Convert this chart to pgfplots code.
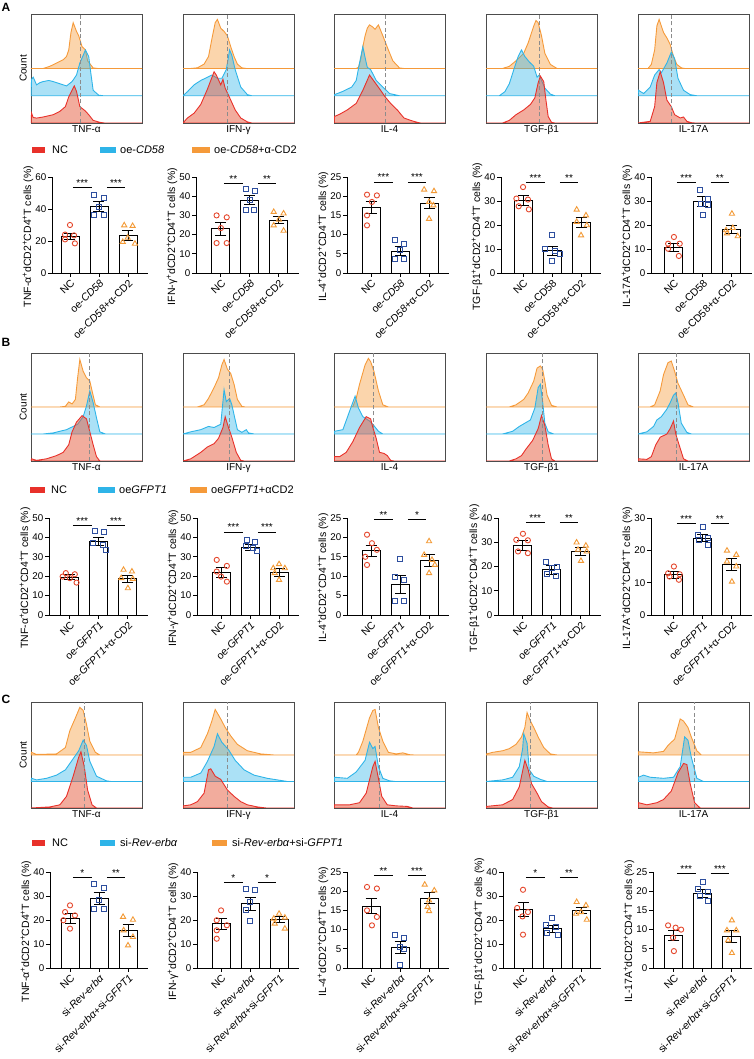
\documentclass[border=0pt]{standalone}
\usepackage{fontspec}
\setmainfont{Liberation Sans}
\usepackage{pgfplots}
\pgfplotsset{compat=1.18}
\definecolor{cR}{HTML}{E8312A}
\definecolor{cRf}{HTML}{E65A3C}
\definecolor{cB}{HTML}{2EB4E8}
\definecolor{cO}{HTML}{F59A3A}
\definecolor{pR}{HTML}{E5472C}
\definecolor{pB}{HTML}{2D4E9E}
\definecolor{pO}{HTML}{F39A36}
\newcommand\fsT{\fontsize{9.8}{11}\selectfont}
\newcommand\fsX{\fontsize{10.5}{12}\selectfont}
\newcommand\fsL{\fontsize{10.5}{12}\selectfont}
\newcommand\fsH{\fontsize{10}{12}\selectfont}
\newcommand\fsG{\fontsize{11}{13}\selectfont}
\newcommand\sps{\raisebox{0.65ex}{\fontsize{8}{9}\selectfont+}}
\newcommand\yl[1]{#1\sps dCD2\sps CD4\sps T cells (\%)}
\tikzset{
 dashl/.style={draw=black!45, dash pattern=on 4pt off 2.5pt, line width=1pt},
 sigl/.style={line width=0.9pt, black},
}
\pgfplotsset{
 histax/.style={scale only axis, width=111pt, anchor=south west, xmin=0, xmax=100, ymin=0, ymax=100,
   xtick=\empty, ytick=\empty, axis line style={draw=black!70, line width=0.8pt},
   xlabel style={at={(axis description cs:0.5,0)}, anchor=north, inner sep=2pt, font=\fsH},
   ylabel style={at={(axis description cs:0,0.5)}, anchor=south, inner sep=4pt, font=\fsH}},
 hO/.style={draw=cO, fill=cO, fill opacity=0.42, line width=0.9pt, y filter/.expression={y+50}},
 hB/.style={draw=cB, fill=cB, fill opacity=0.4, line width=0.9pt, y filter/.expression={y+25}},
 hR/.style={draw=cR, fill=cRf, fill opacity=0.5, line width=0.9pt},
 barax/.style={scale only axis, anchor=south west, x=29pt, xmax=2.68, ymin=0, clip=false,
   axis lines=left, axis line style={-, line width=0.9pt},
   tick align=outside, major tick length=4pt, tick style={line width=0.9pt, black},
   xtick={0,1,2}, xticklabel style={rotate=45, anchor=north east, inner sep=1pt, font=\fsX},
   yticklabel style={font=\fsT, inner sep=1.5pt},
   ylabel style={font=\fsL, inner sep=0.5pt, at={(ticklabel cs:0.38)}},
   /pgf/number format/assume math mode=true},
 bars/.style={ybar, bar width=18pt, fill=white, draw=black, line width=0.9pt,
   error bars/y dir=both, error bars/y explicit,
   error bars/error bar style={line width=0.9pt, black},
   error bars/error mark options={rotate=90, mark size=5.5pt, line width=0.9pt, black}},
 pNC/.style={only marks, mark=o, mark size=2.6pt, pR, mark options={line width=0.9pt}},
 pOE/.style={only marks, mark=square, mark size=2.5pt, pB, mark options={line width=0.9pt}},
 pAL/.style={only marks, mark=triangle, mark size=3pt, pO, mark options={line width=0.9pt}},
 xA/.style={xticklabels={NC,oe-\textit{CD58},oe-\textit{CD58}+α-CD2}},
 xAu/.style={xticklabels={NC,oe-CD58,oe-CD58+α-CD2}},
 xB/.style={xticklabels={NC,oe-\textit{GFPT1},oe-\textit{GFPT1}+α-CD2}},
 xC/.style={xticklabels={NC,si-\textit{Rev-erbα},si-\textit{Rev-erbα}+si-\textit{GFPT1}}},
}
\newcommand\hh[5]{%
\begin{axis}[histax,#1]
\addplot[hO] coordinates {#2} -- cycle;
\addplot[hB] coordinates {#3} -- cycle;
\addplot[hR] coordinates {#4} -- cycle;
\draw[dashl] (axis cs:#5,0) -- (axis cs:#5,100);
\end{axis}}
\newcommand\bc[8]{%
\begin{axis}[barax,#1]
\addplot[bars] coordinates {#2};
\addplot[pNC] coordinates {#3};
\addplot[pOE] coordinates {#4};
\addplot[pAL] coordinates {#5};
\draw[sigl] (axis cs:0.1,#6) -- (axis cs:0.75,#6) node[midway,anchor=base,font=\fsH,inner sep=0pt,yshift=1pt,text=black] {#7};
\draw[sigl] (axis cs:1.27,#6) -- (axis cs:1.9,#6) node[midway,anchor=base,font=\fsH,inner sep=0pt,yshift=1pt,text=black] {#8};
\end{axis}}
\begin{document}
\begin{tikzpicture}[x=1pt,y=1pt]
\useasboundingbox (0pt,0pt) rectangle (754pt,1059pt);
% panel letters
\node[font=\bfseries\fontsize{12}{14}\selectfont] at (6pt,1052pt) {A};
\node[font=\bfseries\fontsize{12}{14}\selectfont] at (6pt,717pt) {B};
\node[font=\bfseries\fontsize{12}{14}\selectfont] at (6pt,360pt) {C};

% ---------------- Panel A histograms
\hh{at={(31pt,936pt)}, height=109pt, xlabel={TNF-α}, ylabel={Count}}
 {(0,0)(11,0)(17,2)(23,5)(29,8)(32,11)(34,17)(36,33)(38,42)(41,34)(43,30)(46,20)(49,17)(51,7)(56,0.5)(60,0)(100,0)}
 {(0,0)(0.5,15)(2,17)(5,10)(8,12)(11,13)(16,14)(20,13)(26,11)(32,9)(37,13)(41,19)(44,30)(47,37)(49,42)(52,36)(54,20)(56,5)(61,0.5)(65,0)(100,0)}
 {(0,0)(0.5,9)(2,5)(5,4.5)(11,5.5)(20,7.6)(26,10.7)(31,15)(34,24)(37,30)(39,34)(41,29)(44,15)(49,11)(52,7.6)(56,2.4)(62,0.6)(66,0)(100,0)}
 {45}
\hh{at={(183pt,936pt)}, height=109pt, xlabel={IFN-γ}}
 {(0,0)(7,0)(13,0.6)(19,4)(23,11)(26,27)(29,42)(31,45)(34,37)(37,34)(40,30)(43,20)(46,11)(49,4)(53,0.6)(57,0)(100,0)}
 {(0,0)(4,3.7)(10,10)(16,14)(22,17)(26,19)(31,16)(35,16)(39,24)(42,42)(44,37)(47,24)(52,8)(58,1)(62,0)(100,0)}
 {(0,0)(4,4.6)(10,9)(16,17)(22,31)(28,47)(30,44)(34,35)(36,40)(38,32)(43,21)(47,12)(52,4.6)(58,1)(62,0)(100,0)}
 {40}
\hh{at={(334pt,936pt)}, height=109pt, xlabel={IL-4}}
 {(0,0)(20,0)(22,1)(24,8)(26,20)(28,30)(30,37)(32,40)(35,38)(37,36)(40,40)(44,30)(49,17)(53,7)(59,0.5)(63,0)(100,0)}
 {(0,0)(0.5,1)(8,4)(16,8)(20,14)(23,30)(26,45)(28,35)(30,26)(33,24)(38,14)(44,8)(50,2)(59,0)(100,0)}
 {(0,0)(0.5,6)(5,8)(12,12)(20,18)(26,30)(32,44)(37,37)(42,30)(46,24)(51,18)(57,12)(63,4.6)(69,2.4)(75,0.6)(78,0)(100,0)}
 {46}
\hh{at={(486pt,936pt)}, height=109pt, xlabel={TGF-β1}}
 {(0,0)(15,0)(21,2)(27,7)(34,14)(38,23.5)(43,39)(45,44)(47,42)(50,30)(53,14)(58,3.7)(64,0)(100,0)}
 {(0,0)(12,0)(17,3.7)(21,11)(26,27)(29,36)(32,42)(35,36)(39,31)(43,27)(46,17)(48,19)(50,14)(53,7)(58,1.5)(62,0)(100,0)}
 {(0,0)(15,0)(21,2.4)(27,7.6)(34,12)(40,17)(44,23)(47,37)(49,43)(52,38)(54,21)(56,6)(59,0.6)(62,0)(100,0)}
 {48.6}
\hh{at={(638pt,936pt)}, height=109pt, xlabel={IL-17A}}
 {(0,0)(9,0)(12,3.7)(15,17)(17,39)(19,45)(23,33)(26,28)(29,22)(32,11)(35,3.7)(39,0.6)(42,0)(100,0)}
 {(0,0)(0.5,5)(5,2)(11,8)(15,19)(19,24)(21,21)(26,30)(30,40)(33,34)(36,16)(41,5)(47,1)(53,0)(100,0)}
 {(0,0)(11,1.5)(15,15)(17,37)(20,47)(23,37)(26,21)(30,15)(33,7.6)(38,4.6)(41,5.5)(44,1.5)(48,0.3)(51,0)(100,0)}
 {30}

% legend A
\fill[cR] (32pt,906pt) rectangle (45pt,912pt); \node[anchor=west,inner sep=0,font=\fsG] at (52pt,909pt) {NC};
\fill[cB] (100pt,906pt) rectangle (116pt,912pt); \node[anchor=west,inner sep=0,font=\fsG] at (120pt,909pt) {oe-\textit{CD58}};
\fill[cO] (192pt,906pt) rectangle (210pt,912pt); \node[anchor=west,inner sep=0,font=\fsG] at (214pt,909pt) {oe-\textit{CD58}+α-CD2};

% ---------------- Panel A bars
\bc{at={(52pt,786pt)}, height=96pt, xmin=-0.62, ymax=60, ytick={0,20,40,60}, ylabel={\yl{TNF-α}}, xA}
 {(0,23) +- (0,2) (1,41.7) +- (0,3) (2,23.3) +- (0,3)}
 {(0,30)(-0.17,24)(0.14,23.5)(-0.17,21)(0.17,18.5)}
 {(0.83,49)(1.17,47)(1,41)(0.83,36.5)(1.17,36.5)}
 {(1.87,29.8)(2.16,29.4)(1.99,22)(1.82,19.4)(2.24,18.3)}
 {53.7}{***}{***}
\bc{at={(196pt,786pt)}, height=96pt, xmin=-0.86, ymax=50, ytick={0,10,...,50}, ylabel={\yl{IFN-γ}}, xA}
 {(0,23) +- (0,3.3) (1,37.9) +- (0,2.3) (2,27.5) +- (0,1.8)}
 {(-0.15,30)(0.2,29)(0,23.4)(-0.15,15.6)(0.2,15.6)}
 {(0.86,44)(1.17,42.5)(1,37.8)(0.86,32.6)(1.14,32.6)}
 {(1.82,31.8)(2.16,31)(2,27.8)(1.82,24.8)(2.16,22)}
 {46.5}{**}{**}
\bc{at={(347pt,786pt)}, height=96pt, xmin=-0.83, ymax=25, ytick={0,5,...,25}, ylabel={\yl{IL-4}}, xA}
 {(0,17) +- (0,1.6) (1,5.7) +- (0,1.1) (2,18.2) +- (0,1.5)}
 {(-0.14,20.4)(0.2,20.2)(0.03,18.5)(-0.14,15)(-0.14,12.4)}
 {(0.83,8.7)(1.15,7.5)(1,6.1)(0.83,3.7)(1.15,3.7)}
 {(1.83,21.7)(2.17,21.3)(2,18.5)(2.15,17.6)(2,14.1)}
 {23.7}{***}{***}
\bc{at={(501pt,786pt)}, height=96pt, xmin=-0.76, ymax=40, ytick={0,10,...,40}, ylabel={\yl{TGF-β1}}, xAu}
 {(0,30.3) +- (0,2) (1,9.2) +- (0,2) (2,21.1) +- (0,2)}
 {(0,35.8)(-0.23,31)(0.17,30.6)(-0.15,27.8)(0.2,26.5)}
 {(1,15.7)(0.77,10.1)(1.1,9.2)(1.26,7.8)(1,4.9)}
 {(1.85,26.4)(2.17,24)(1.85,21.3)(2.2,19.9)(2,15.7)}
 {37.9}{***}{**}
\bc{at={(651pt,786pt)}, height=96pt, xmin=-0.79, ymax=40, ytick={0,10,...,40}, ylabel={\yl{IL-17A}}, xAu}
 {(0,10.6) +- (0,1.7) (1,29.9) +- (0,2) (2,18.2) +- (0,1.8)}
 {(0,15)(-0.2,12.2)(0.2,12.2)(-0.2,10.1)(0.17,7.1)}
 {(0.9,34.7)(1.17,31)(0.93,28.9)(1.17,28.2)(1,24.3)}
 {(2,24.7)(1.8,17.8)(2.03,18.75)(2.2,15.3)(1.83,16.5)}
 {37.9}{***}{**}

% ---------------- Panel B histograms
\hh{at={(31pt,598pt)}, height=108pt, xlabel={TNF-α}, ylabel={Count}}
 {(0,0)(26,0)(31,0.6)(34,4.7)(37,2.8)(40,7)(42,27)(44,44)(47,33)(50,27)(53,24)(55,15)(58,2)(62,0)(100,0)}
 {(0,0)(11,0)(20,1)(32,4)(42,9)(47,16)(50,26)(53,40)(56,29)(59,15)(62,2)(67,0)(100,0)}
 {(0,0)(0.5,2)(5,0.6)(14,2)(23,5)(29,8)(34,15)(37,27)(41,36)(46,42)(50,39)(53,27)(56,15)(59,4)(62,0)(100,0)}
 {53}
\hh{at={(183pt,598pt)}, height=108pt, xlabel={IFN-γ}}
 {(0,0)(13,0)(19,2)(23,8)(28,18)(32,27)(35,39)(37,44)(40,35)(43,31)(46,21)(49,7)(53,0.6)(56,0)(100,0)}
 {(0,0)(7,2)(16,4)(23,7)(28,6)(34,9)(37,41)(39,30)(42,33)(44,27)(49,4)(53,1.5)(57,4)(59,1)(64,0)(100,0)}
 {(0,0)(7,2)(16,8)(22,13)(28,16)(32,21)(36,31)(38,41)(41,31)(44,22)(48,8)(52,0.6)(55,0)(100,0)}
 {42}
\hh{at={(334pt,598pt)}, height=108pt, xlabel={IL-4}}
 {(0,0)(15,0)(17,0.5)(20,8)(23,21)(28,39)(31,45)(33,42)(35,36)(36,33)(40,15)(44,2)(49,0)(100,0)}
 {(0,0)(0.5,2.5)(8,4)(14,21)(19,35)(22,24)(26,16)(32,12)(35,9)(40,2.5)(44,0)(100,0)}
 {(0,0)(0.5,4)(5,4)(11,8)(17,18)(23,31)(29,41)(33,39)(35,31)(38,21)(41,8)(45,7)(48,5)(51,0.6)(54,0)(100,0)}
 {36}
\hh{at={(486pt,598pt)}, height=108pt, xlabel={TGF-β1}}
 {(0,0)(21,0)(27,2)(34,7)(38,13)(43,24)(46,36)(49,38)(51,35)(53,24)(55,11)(59,1.5)(64,0)(100,0)}
 {(0,0)(15,0)(24,2.5)(30,7)(35,10)(40,13)(44,24)(47,43)(49,46)(51,30)(53,10)(56,2)(61,0)(100,0)}
 {(0,0)(21,0)(27,2)(32,5)(36,11)(42,19)(47,30)(50,42)(53,33)(56,15)(59,2)(62,0)(100,0)}
 {51}
\hh{at={(638pt,598pt)}, height=108pt, xlabel={IL-17A}}
 {(0,0)(11,0)(15,2)(20,15)(23,30)(27,41)(30,42.5)(33,33)(36,22)(41,11)(45,2)(50,0)(100,0)}
 {(0,0)(8,2)(14,7)(17,13)(21,16)(26,23)(29,29)(32,36)(34,38)(36,29)(39,10)(44,1.5)(48,0)(100,0)}
 {(0,0)(0.5,2)(8,1.5)(12,4)(16,15)(20,22)(26,25)(29,30)(32,37)(34,25)(37,15)(41,2)(45,0)(100,0)}
 {35}

% legend B
\fill[cR] (30pt,566pt) rectangle (45pt,572pt); \node[anchor=west,inner sep=0,font=\fsG] at (51pt,569pt) {NC};
\fill[cB] (98pt,566pt) rectangle (115pt,572pt); \node[anchor=west,inner sep=0,font=\fsG] at (119pt,569pt) {oe\textit{GFPT1}};
\fill[cO] (190pt,566pt) rectangle (207pt,572pt); \node[anchor=west,inner sep=0,font=\fsG] at (211pt,569pt) {oe\textit{GFPT1}+αCD2};

% ---------------- Panel B bars
\bc{at={(49pt,444pt)}, height=97pt, xmin=-0.72, ymax=50, ytick={0,10,...,50}, ylabel={\yl{TNF-α}}, xB}
 {(0,19.5) +- (0,1.2) (1,37.9) +- (0,2.3) (2,18.6) +- (0,2)}
 {(-0.14,21.6)(0.17,21)(-0.25,19.8)(0,19)(0.23,16.7)}
 {(0.86,43.1)(1.17,42.8)(0.8,37)(1.15,36.2)(1.24,33.6)}
 {(1.85,23.3)(2.14,22.4)(1.77,19)(2.17,18.6)(2,13.8)}
 {46.2}{***}{***}
\bc{at={(197pt,444pt)}, height=97pt, xmin=-0.83, ymax=50, ytick={0,10,...,50}, ylabel={\yl{IFN-γ}}, xB}
 {(0,22) +- (0,2.5) (1,34.8) +- (0,1.5) (2,22) +- (0,2)}
 {(-0.15,28.4)(0.2,25.3)(-0.15,22.4)(0,19.8)(0.2,17.2)}
 {(0.88,38.8)(1.17,37.4)(0.86,35.7)(1.11,34.5)(1.23,32.8)}
 {(2,26.2)(1.8,24.1)(2.2,24.1)(1.85,21.6)(2,18.1)}
 {42.8}{***}{***}
\bc{at={(347pt,444pt)}, height=97pt, xmin=-0.83, ymax=25, ytick={0,5,...,25}, ylabel={\yl{IL-4}}, xB}
 {(0,16.6) +- (0,1.4) (1,7.9) +- (0,2.3) (2,14.1) +- (0,1.6)}
 {(-0.14,20.7)(0.03,18.5)(0.2,16.8)(-0.2,15)(-0.14,12.9)}
 {(1,14.5)(0.83,9.9)(1.15,9.1)(0.83,3.7)(1.15,3.7)}
 {(2,19)(1.83,15.5)(2.1,14.2)(2.2,12.9)(2,10.8)}
 {24.7}{**}{*}
\bc{at={(498pt,444pt)}, height=97pt, xmin=-0.86, ymax=40, ytick={0,10,...,40}, ylabel={\yl{TGF-β1}}, xB}
 {(0,28.7) +- (0,1.9) (1,18.6) +- (0,1.7) (2,26.2) +- (0,1.7)}
 {(0,33.5)(-0.23,31)(0.17,30.8)(-0.17,26.2)(0.17,25.5)}
 {(0.8,22)(1.17,20)(1,19.3)(0.83,16.8)(1.15,15.9)}
 {(1.85,29.9)(2.17,28.6)(1.9,26.9)(2.2,26.2)(2,22.3)}
 {38.3}{***}{**}
\bc{at={(651pt,444pt)}, height=97pt, xmin=-0.79, ymax=30, ytick={0,10,...,30}, ylabel={\yl{IL-17A}}, xB}
 {(0,12.4) +- (0,1) (1,23.8) +- (0,1) (2,15.7) +- (0,1.8)}
 {(0,15)(-0.2,12.9)(0.2,12.6)(-0.15,11.9)(0.17,10.9)}
 {(1,27.1)(0.83,24.8)(1.17,23.8)(0.88,23.3)(1.17,21.7)}
 {(1.83,19.9)(2.15,18.6)(1.83,16.5)(2.15,15)(2,10.3)}
 {28.4}{***}{**}

% ---------------- Panel C histograms
\hh{at={(31pt,251pt)}, height=106pt, xlabel={TNF-α}, ylabel={Count}}
 {(0,0)(0.5,2.5)(5,0.5)(23,1)(31,7)(35,23)(40,35)(44,45)(47,42)(50,29)(53,13)(58,2.5)(62,0)(100,0)}
 {(0,0)(0.5,3)(5,1.5)(14,3)(23,6)(31,11)(37,20)(43,29)(47,39)(50,34)(53,19)(59,5)(68,0.6)(72,0)(100,0)}
 {(0,0)(17,1)(26,3)(32,11)(38,30)(43,48)(45,53)(48,39)(51,17)(55,3)(59,0)(100,0)}
 {48}
\hh{at={(183pt,251pt)}, height=106pt, xlabel={IFN-γ}}
 {(0,0)(0.5,2.5)(7,2.5)(16,7)(22,20)(26,32)(29,43)(34,34)(38,26)(43,18)(49,10)(58,4)(70,1)(82,0)(100,0)}
 {(0,0)(0.5,4)(7,4)(16,8)(22,19)(28,33)(31,45)(35,37)(41,30)(47,20)(55,11)(64,6)(76,3)(88,1)(94,0)(100,0)}
 {(0,0)(0.5,2)(7,3)(13,6)(19,14)(23,36)(25,37)(29,30)(34,27)(40,17)(46,11)(52,6)(58,3)(67,1)(75,0)(100,0)}
 {40}
\hh{at={(334pt,251pt)}, height=106pt, xlabel={IL-4}}
 {(0,0)(20,0)(22,2.5)(26,13)(32,35)(35,42)(37,43)(40,26)(44,13)(49,2.5)(56,1)(62,2)(68,0.3)(72,0)(100,0)}
 {(0,0)(0.5,4)(12,3)(20,9)(28,20)(32,37)(35,31)(37,33)(40,14)(44,3)(50,0.6)(55,0)(100,0)}
 {(0,0)(0.5,3)(14,3)(23,5)(29,14)(35,39)(37,44)(40,28)(43,11)(48,3)(56,2)(66,1.5)(71,0)(100,0)}
 {41}
\hh{at={(486pt,251pt)}, height=106pt, xlabel={TGF-β1}}
 {(0,0)(0.5,1)(6,2.5)(15,4)(21,6)(27,10)(32,17)(35,26)(37,40)(40,32)(43,26)(47,17)(52,7)(58,1)(64,0)(100,0)}
 {(0,0)(15,1.5)(24,4)(30,14)(33,31)(34,45)(37,36)(39,11)(43,5)(49,2)(55,0)(100,0)}
 {(0,0)(0.5,1.5)(15,3)(24,8)(30,20)(35,45)(38,36)(41,23)(46,14)(50,6)(56,1)(60,0)(100,0)}
 {40}
\hh{at={(638pt,251pt)}, height=106pt, xlabel={IL-17A}}
 {(0,0)(0.5,3)(14,2)(23,3.4)(27,9)(33,15)(38,34)(41,32)(45,26)(48,17)(53,4)(57,0)(100,0)}
 {(0,0)(0.5,4)(5,6)(11,4)(23,3)(32,4)(38,14)(42,42)(45,39)(48,23)(53,3)(59,0)(100,0)}
 {(0,0)(0.5,5)(8,3)(17,5)(23,8)(30,16)(36,33)(41,42)(44,41)(47,23)(51,5)(56,0)(100,0)}
 {51}

% legend C
\fill[cR] (32pt,213pt) rectangle (45pt,219pt); \node[anchor=west,inner sep=0,font=\fsG] at (52pt,216pt) {NC};
\fill[cB] (100pt,213pt) rectangle (115pt,219pt); \node[anchor=west,inner sep=0,font=\fsG] at (120pt,216pt) {si-\textit{Rev-erbα}};
\fill[cO] (212pt,213pt) rectangle (227pt,219pt); \node[anchor=west,inner sep=0,font=\fsG] at (232pt,216pt) {si-\textit{Rev-erbα}+si-\textit{GFPT1}};

% ---------------- Panel C bars
\bc{at={(50pt,91pt)}, height=96pt, xmin=-0.69, ymax=40, ytick={0,10,...,40}, ylabel={\yl{TNF-α}}, xC}
 {(0,20.6) +- (0,2) (1,28.9) +- (0,2.6) (2,15.7) +- (0,2.5)}
 {(0,26.1)(-0.17,23.3)(0.17,21.9)(-0.23,19.9)(0,16.4)}
 {(0.84,35.1)(1.18,33.5)(1,28.2)(0.84,24.7)(1.18,24.7)}
 {(1.83,21.3)(2.17,20.1)(1.85,15.7)(2.17,12.9)(2,9.4)}
 {37.9}{*}{**}
\bc{at={(197pt,91pt)}, height=96pt, xmin=-0.83, ymax=40, ytick={0,10,...,40}, ylabel={\yl{IFN-γ}}, xC}
 {(0,18.5) +- (0,2.3) (1,26.8) +- (0,2.8) (2,20.1) +- (0,1.3)}
 {(0,24)(-0.15,19.9)(0.2,17.8)(-0.15,15.7)(-0.15,12.2)}
 {(0.86,33.1)(1.17,32.4)(1,27.5)(0.86,24)(1,19.4)}
 {(2,22.6)(1.82,20.6)(2.2,21)(1.85,18.5)(2.2,16.4)}
 {35.8}{*}{*}
\bc{at={(347pt,91pt)}, height=96pt, xmin=-0.83, ymax=25, ytick={0,5,...,25}, ylabel={\yl{IL-4}}, xC}
 {(0,16.1) +- (0,2) (1,5.3) +- (0,1.5) (2,18.2) +- (0,1.4)}
 {(-0.14,21.1)(0.2,20.7)(-0.14,15)(0.2,13.3)(0.03,11.1)}
 {(0.83,8.5)(1.15,7.9)(1,5.5)(1.15,5)(1,0.7)}
 {(1.85,21.7)(2.18,20.2)(2,17.6)(1.95,15.9)(2,14.8)}
 {24}{**}{***}
\bc{at={(503pt,91pt)}, height=96pt, xmin=-0.69, ymax=40, ytick={0,10,...,40}, ylabel={\yl{TGF-β1}}, xC}
 {(0,24.3) +- (0,3) (1,16.4) +- (0,1.5) (2,24) +- (0,1.4)}
 {(0,32.6)(-0.2,25)(0.17,23.3)(-0.02,21.5)(0,13.9)}
 {(1,21)(0.8,17.8)(1.15,17.1)(0.83,14.6)(1.2,13.6)}
 {(1.85,27.5)(2.17,26.1)(2,23.3)(1.83,22.6)(2.2,20.1)}
 {37.9}{*}{**}
\bc{at={(653pt,91pt)}, height=96pt, xmin=-0.72, ymax=25, ytick={0,5,...,25}, ylabel={\yl{IL-17A}}, xC}
 {(0,8.5) +- (0,1.3) (1,19.4) +- (0,1) (2,8.2) +- (0,1.6)}
 {(-0.2,11.1)(0.06,10.5)(0.25,10)(-0.03,7.9)(0,4.4)}
 {(1,22.4)(0.83,20.7)(1.17,19.8)(0.9,18.7)(1.17,17.4)}
 {(2,12.4)(1.83,9.8)(2.15,9.8)(1.87,7.2)(2,3.9)}
 {24.7}{***}{***}
\end{tikzpicture}
\end{document}
